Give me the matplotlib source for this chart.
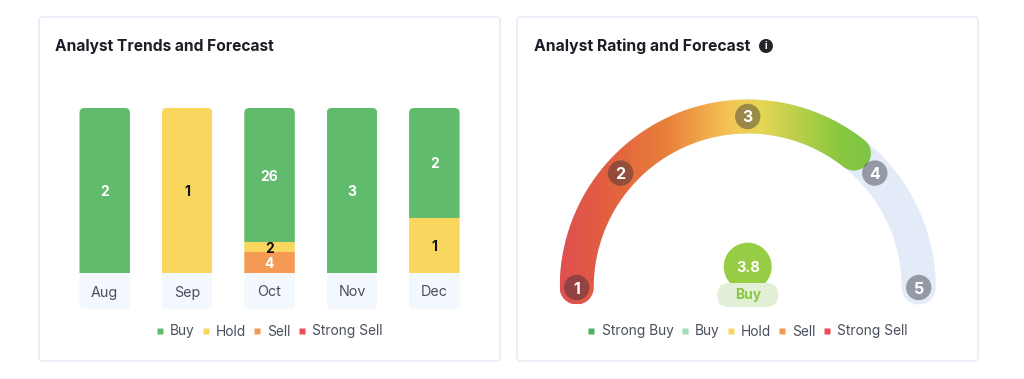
import numpy as np
import matplotlib
matplotlib.use('Agg')
import matplotlib.pyplot as plt
from matplotlib.patches import FancyBboxPatch, Circle, PathPatch
from matplotlib.path import Path
from matplotlib.lines import Line2D
from matplotlib.colors import LinearSegmentedColormap

plt.rcParams['font.family'] = ['Inter', 'DejaVu Sans']

# ----- data ----- #
months = ['Aug', 'Sep', 'Oct', 'Nov', 'Dec']
buy = [2, 0, 26, 3, 2]
hold = [0, 1, 2, 0, 1]
sell = [0, 0, 4, 0, 0]
strong_sell = [0, 0, 0, 0, 0]

rating = 3.8
rating_label = 'Buy'
rating_ticks = [1, 2, 3, 4, 5]
tick_angles = [180, 138, 90, 42, 0]

legend_left = ['Buy', 'Hold', 'Sell', 'Strong Sell']
legend_right = ['Strong Buy', 'Buy', 'Hold', 'Sell', 'Strong Sell']

GREEN = '#60BC6C'
YELLOW = '#F9D75F'
ORANGE = '#F49A54'
RED = '#EE4B5A'
TAB = '#F3F7FE'
TEXT = '#4A4F5E'
W, H = 1024, 379

fig = plt.figure(figsize=(W/100, H/100), dpi=100, facecolor='white')


def px_axes(x0, y0, x1, y1):
    # axes placed by screenshot pixels (y down)
    return fig.add_axes([x0/W, 1-y1/H, (x1-x0)/W, (y1-y0)/H])


# ----- background: cards and titles ----- #
bg = px_axes(0, 0, W, H)
bg.set_xlim(0, W)
bg.set_ylim(H, 0)
bg.axis('off')
for x0 in [39, 517]:
    bg.add_patch(FancyBboxPatch((x0, 17), 461, 344, boxstyle='round,pad=0,rounding_size=4',
                                fc='white', ec='#E2E8F7', lw=1.0))
bg.text(55, 46, 'Analyst Trends and Forecast', fontsize=11.2, fontweight='bold',
        color='#1C1E26', va='center', ha='left')
bg.text(533.5, 46, 'Analyst Rating and Forecast', fontsize=11.35, fontweight='bold',
        color='#1C1E26', va='center', ha='left')
bg.add_patch(Circle((766, 46), 7, fc='#25262B', ec='none'))
bg.text(766, 46, 'i', fontsize=7, fontweight='bold', color='white', va='center', ha='center')

# ----- stacked bars ----- #
step = 82.4
bar_w = 0.613
ax_x0 = 104.75-step/2
tab_h = 36/165
ax = px_axes(ax_x0, 108, ax_x0+5*step, 309)
ax.set_xlim(-0.5, 4.5)
ax.set_ylim(-tab_h, 1)
ax.axis('off')
ax.patch.set_alpha(0)

totals = np.array(buy)+np.array(hold)+np.array(sell)+np.array(strong_sell)
xpos = np.arange(len(months))
bottom = np.zeros(len(months))
series = [(strong_sell, RED, 'white'), (sell, ORANGE, 'white'), (hold, YELLOW, '#111111'), (buy, GREEN, 'white')]
columns = []
for ii in xpos:
    px0 = ax_x0+(ii+0.5-bar_w/2)*step
    clip = FancyBboxPatch((px0, 108), bar_w*step, 201, boxstyle='round,pad=0,rounding_size=5',
                          transform=bg.transData)
    columns.append(clip)
    tab = ax.bar(ii, tab_h, bar_w, bottom=-tab_h, color=TAB)[0]
    tab.set_clip_path(clip)
    ax.text(ii, -tab_h/2, months[ii], fontsize=10.3, color=TEXT, ha='center', va='center_baseline')
for vals, col, tc in series:
    frac = np.array(vals)/totals
    rects = ax.bar(xpos, frac, bar_w, bottom=bottom, color=col)
    for ii, rr in enumerate(rects):
        rr.set_clip_path(columns[ii])
        if vals[ii] > 0:
            ax.text(ii, bottom[ii]+frac[ii]/2, str(vals[ii]), color=tc, fontsize=10,
                    fontweight='bold', ha='center', va='center_baseline')
    bottom = bottom+frac


def square_legend(labels, colors, cx):
    hh = [Line2D([], [], ls='none', marker='s', ms=5, mfc=c, mec='none', label=l)
          for l, c in zip(labels, colors)]
    leg = bg.legend(handles=hh, loc='center', bbox_to_anchor=(cx, 331.5), bbox_transform=bg.transData,
                    ncol=len(labels), frameon=False, fontsize=9.9, labelcolor=TEXT,
                    columnspacing=0.5, handletextpad=0.45, handlelength=0.6, borderpad=0, borderaxespad=0)
    bg.add_artist(leg)
    bg.legend_ = None


square_legend(legend_left, [GREEN, YELLOW, ORANGE, RED], 269)
square_legend(legend_right, ['#4CB25C', '#A3DDB5', YELLOW, ORANGE, RED], 747.5)

# ----- gauge ----- #
cx, cy, R = 747.7, 287.5, 171.0
half = 17.0
g = px_axes(cx-200, cy-200, cx+200, cy+40)
g.set_xlim(-200, 200)
g.set_ylim(-40, 200)
g.axis('off')
g.patch.set_alpha(0)


def rating_angle(r):
    return np.interp(r, rating_ticks, tick_angles)


def arc_path(a0, a1):
    # outline of a thick arc with round ends, a0 > a1 in degrees
    th = np.radians(np.linspace(a0, a1, 300))
    end = np.radians(np.linspace(a1, a1-180, 40))
    start = np.radians(np.linspace(a0+180, a0, 40))
    ox, oy = (R+half)*np.cos(th), (R+half)*np.sin(th)
    ix, iy = (R-half)*np.cos(th[::-1]), (R-half)*np.sin(th[::-1])
    ex = R*np.cos(th[-1])+half*np.cos(end)
    ey = R*np.sin(th[-1])+half*np.sin(end)
    sx = R*np.cos(th[0])+half*np.cos(start)
    sy = R*np.sin(th[0])+half*np.sin(start)
    verts = np.column_stack([np.r_[ox, ex, ix, sx], np.r_[oy, ey, iy, sy]])
    return Path(np.vstack([verts, verts[0]]), closed=True)


g.add_patch(PathPatch(arc_path(180, 0), fc='#E3EAF8', ec='none', zorder=1))

cmap = LinearSegmentedColormap.from_list('gauge', [
    (0.0, '#DF4F50'), (0.133, '#E2613F'), (0.284, '#E8803A'), (0.452, '#F5C555'),
    (0.532, '#E8D655'), (0.736, '#8CC83F'), (0.824, '#7DC548'), (1.0, '#7DC548')])
fill = PathPatch(arc_path(180, rating_angle(rating)), fc='none', ec='none', transform=g.transData)
g.add_patch(fill)
im = g.imshow(np.linspace(0, 1, 512).reshape(1, -1), cmap=cmap, aspect='auto', zorder=2,
              extent=[-R-half, R+half, -half, R+half], interpolation='bilinear')
im.set_clip_path(fill)
g.set_xlim(-200, 200)
g.set_ylim(-40, 200)

for tt, aa in zip(rating_ticks, tick_angles):
    xx, yy = R*np.cos(np.radians(aa)), R*np.sin(np.radians(aa))
    g.add_patch(Circle((xx, yy), 12.7, fc='#2A2A35', ec='none', alpha=0.42, zorder=4))
    g.text(xx, yy, str(tt), color='white', fontsize=11.5, fontweight='bold',
           ha='center', va='center_baseline', zorder=5)

g.add_patch(Circle((0, 20.8), 24, fc='#96CD44', ec='none', zorder=4))
g.text(0, 20.8, f'{rating}', color='white', fontsize=10.5, fontweight='bold',
       ha='center', va='center_baseline', zorder=5)
g.add_patch(FancyBboxPatch((-30.5, -19.5), 61, 24, boxstyle='round,pad=0,rounding_size=12',
                           fc='#E3F0D8', ec='none', zorder=5))
g.text(0, -7.5, rating_label, color='#8CC83F', fontsize=10, fontweight='bold',
       ha='center', va='center', zorder=6)

fig.savefig('out.png', dpi=100, facecolor='white')
